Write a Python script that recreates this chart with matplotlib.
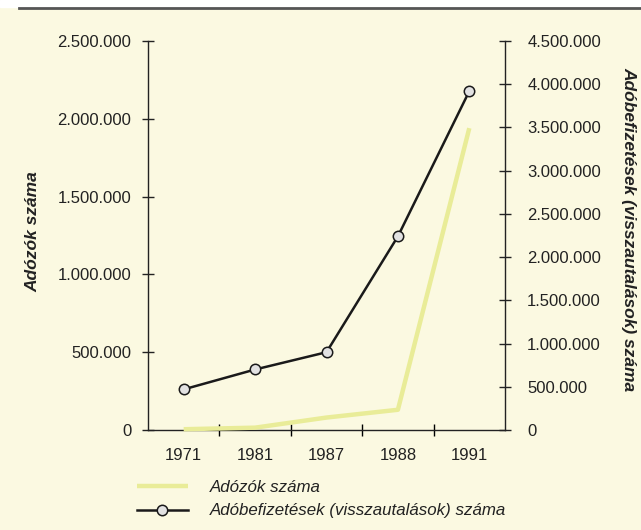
import matplotlib
matplotlib.use("Agg")
import matplotlib.pyplot as plt
from matplotlib.ticker import FuncFormatter, MultipleLocator
from matplotlib.lines import Line2D

plt.rcParams["font.family"] = ["Liberation Sans", "DejaVu Sans"]

# data
years = ["1971", "1981", "1987", "1988", "1991"]
adozok = [5000, 15000, 80000, 130000, 1940000]
befizetesek = [470000, 700000, 900000, 2240000, 3920000]

label_adozok = "Adózók száma"
label_befiz = "Adóbefizetések (visszautalások) száma"

bg = "#fbf9e1"
yellow = "#e9ec98"

fig = plt.figure(figsize=(6.41, 5.30), dpi=100)
fig.patch.set_facecolor(bg)
ax = fig.add_axes([148/641, 1-430/530, (505-148)/641, (430-41)/530])
ax.set_facecolor("none")
ax2 = ax.twinx()

x = range(len(years))
l1, = ax.plot(x, adozok, color=yellow, lw=3.2, zorder=3, clip_on=False,
              solid_capstyle="butt", label=label_adozok)
l2, = ax2.plot(x, befizetesek, color="#1a1a1a", lw=1.8, marker="o", ms=7.5,
               mfc="#e2e2e2", mec="#1a1a1a", mew=1.1, label=label_befiz)

fmt = FuncFormatter(lambda v, p: f"{int(v):,}".replace(",", "."))

ax.set_xlim(-0.5, len(years) - 0.5)
ax.set_ylim(0, 2500000)
ax2.set_ylim(0, 4500000)
ax.yaxis.set_major_locator(MultipleLocator(500000))
ax2.yaxis.set_major_locator(MultipleLocator(500000))
ax.yaxis.set_major_formatter(fmt)
ax2.yaxis.set_major_formatter(fmt)

ax.set_xticks(list(x))
ax.set_xticklabels(years, family=["Liberation Sans Narrow", "Liberation Sans"], fontsize=12)
ax.set_xticks([i + 0.5 for i in range(len(years) - 1)], minor=True)
ax.tick_params(axis="x", which="major", length=0, pad=13, colors="#222222")
ax.tick_params(axis="x", which="minor", length=8, width=1, direction="inout")

ax.tick_params(axis="y", length=8, width=1, direction="inout", labelsize=12,
               pad=8, colors="#222222")
ax2.tick_params(axis="y", length=8, width=1, direction="inout", labelsize=12,
                pad=12, colors="#222222")

for a in (ax, ax2):
    a.spines["top"].set_visible(False)
ax.spines["right"].set_visible(False)
ax2.spines["left"].set_visible(False)
ax2.spines["bottom"].set_visible(False)
for s in ("left", "bottom"):
    ax.spines[s].set_linewidth(1)
    ax.spines[s].set_color("#222222")
ax2.spines["right"].set_linewidth(1)
ax2.spines["right"].set_color("#222222")

fig.text(33/641, 1-232/530, label_adozok, rotation=90, ha="center", va="center",
         fontsize=12.5, fontweight="bold", style="italic", color="#222222")
fig.text(629/641, 1-229/530, label_befiz, rotation=270, ha="center", va="center",
         fontsize=12.5, fontweight="bold", style="italic", color="#222222")

leg = fig.legend(handles=[l1, l2], loc="upper left",
                 bbox_to_anchor=(137/641, 1-480/530), frameon=False,
                 handlelength=3.0, handletextpad=1.3, labelspacing=0.5,
                 borderpad=0, borderaxespad=0,
                 prop={"size": 12.2, "style": "italic"})
for t in leg.get_texts():
    t.set_color("#222222")

# dark edge of the scanned page
fig.add_artist(plt.Rectangle((0, 1-7/530), 1, 7/530, transform=fig.transFigure,
                             color="white", zorder=0))
fig.add_artist(Line2D([0.03, 1], [1-8/530, 1-8/530], transform=fig.transFigure,
                      color="#555555", lw=2))

fig.savefig("out.png", dpi=100, facecolor=bg)
